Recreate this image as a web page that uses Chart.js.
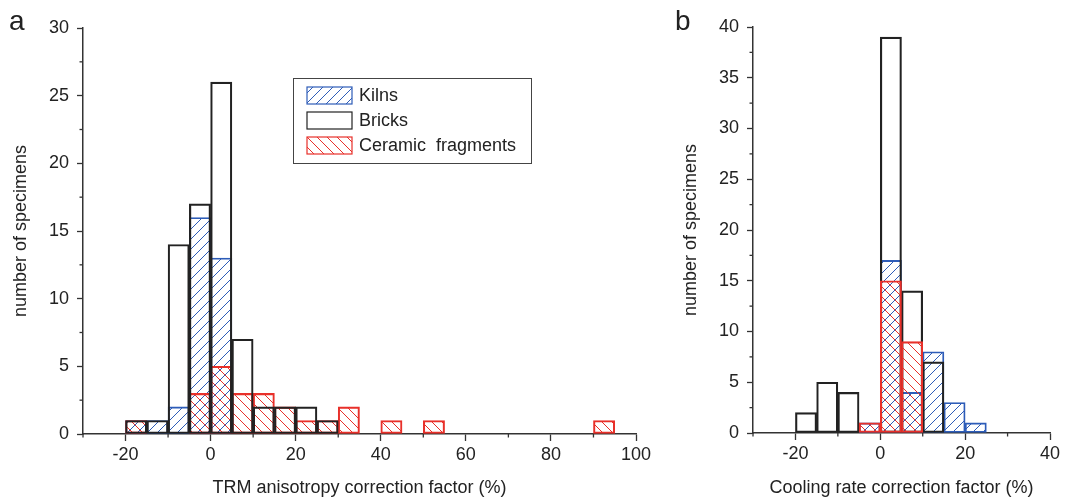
<!DOCTYPE html>
<html>
<head>
<meta charset="utf-8">
<script src="https://cdn.jsdelivr.net/npm/chart.js@4/dist/chart.umd.min.js"></script>
<style>
body{margin:0;background:#fff;width:1065px;height:499px;overflow:hidden;position:relative}
.wrap{position:absolute;top:0;height:499px}
#wa{left:0;width:660px}
#wb{left:665px;width:400px}
</style>
</head>
<body>
<div class="wrap" id="wa"><canvas id="chartA"></canvas></div>
<div class="wrap" id="wb"><canvas id="chartB"></canvas></div>
<script>
// panel a : TRM anisotropy correction factor, bins of 5 %
const binsA    = [-20,-15,-10,-5,0,5,10,15,20,25,30,35,40,45,50,55,60,65,70,75,80,85,90];
const kilnsA   = [1,1,2,16,13,0,0,0,0,0,0,0,0,0,0,0,0,0,0,0,0,0,0];
const bricksA  = [1,1,14,17,26,7,2,2,2,1,0,0,0,0,0,0,0,0,0,0,0,0,0];
const ceramicA = [1,0,0,3,5,3,3,2,1,1,2,0,1,0,1,0,0,0,0,0,0,0,1];

// panel b : cooling rate correction factor
const binsB    = [-20,-15,-10,-5,0,5,10,15,20];
const kilnsB   = [0,0,0,1,17,4,8,3,1];
const bricksB  = [2,5,4,0,39,14,7,0,0];
const ceramicB = [0,0,0,1,15,9,0,0,0];

const binWidth = 5;
const legendNames = ["Kilns", "Bricks", "Ceramic  fragments"];

const FONT = '"Liberation Sans", Arial, sans-serif';
const BLUE = "#2d5cb8";
const RED = "#e8302a";
const BLACK = "#222";

function hatch(color, dir) {
  const s = 10;
  const c = document.createElement("canvas");
  c.width = s; c.height = s;
  const g = c.getContext("2d");
  g.strokeStyle = color;
  g.lineWidth = 1;
  g.beginPath();
  if (dir > 0) {
    g.moveTo(-1, s + 1); g.lineTo(s + 1, -1);
    g.moveTo(-1, 1); g.lineTo(1, -1);
    g.moveTo(s - 1, s + 1); g.lineTo(s + 1, s - 1);
  } else {
    g.moveTo(-1, -1); g.lineTo(s + 1, s + 1);
    g.moveTo(-1, s - 1); g.lineTo(1, s + 1);
    g.moveTo(s - 1, -1); g.lineTo(s + 1, 1);
  }
  g.stroke();
  return g.createPattern(c, "repeat");
}
const blueHatch = hatch(BLUE, 1);
const redHatch = hatch(RED, -1);

function pts(bins, vals) {
  return bins.map((b, i) => ({ x: b + binWidth / 2, y: vals[i] === 0 ? null : vals[i] }));
}

// minor ticks are drawn shorter than the labelled ones
const minorTicks = {
  id: "minorTicks",
  afterDraw(chart) {
    const ctx = chart.ctx;
    ctx.save();
    ctx.strokeStyle = "#333";
    ctx.lineWidth = 1.3;
    const xs = chart.scales.x, ys = chart.scales.y;
    xs.ticks.forEach(t => {
      if (t.label !== "") return;
      const p = xs.getPixelForValue(t.value);
      ctx.beginPath(); ctx.moveTo(p, xs.top); ctx.lineTo(p, xs.top + 3.5); ctx.stroke();
    });
    ys.ticks.forEach(t => {
      if (t.label !== "") return;
      const p = ys.getPixelForValue(t.value);
      ctx.beginPath(); ctx.moveTo(ys.right, p); ctx.lineTo(ys.right - 3.5, p); ctx.stroke();
    });
    ctx.restore();
  }
};

const panelLabel = {
  id: "panelLabel",
  afterDraw(chart, args, opts) {
    const ctx = chart.ctx;
    ctx.save();
    ctx.fillStyle = BLACK;
    ctx.font = "28px " + FONT;
    ctx.textBaseline = "alphabetic";
    ctx.fillText(opts.text, opts.x, opts.y);
    ctx.restore();
  }
};

const boxLegend = {
  id: "boxLegend",
  afterDraw(chart, args, opts) {
    if (!opts.show) return;
    const ctx = chart.ctx;
    ctx.save();
    ctx.strokeStyle = "#444";
    ctx.lineWidth = 1;
    ctx.strokeRect(293.5, 78.5, 238, 85);
    const fills = [blueHatch, "rgba(0,0,0,0)", redHatch];
    const borders = [BLUE, BLACK, RED];
    const rows = [87, 112, 137];
    ctx.font = "18px " + FONT;
    ctx.textBaseline = "middle";
    legendNames.forEach((n, i) => {
      ctx.fillStyle = fills[i];
      ctx.fillRect(307, rows[i], 45, 17);
      ctx.strokeStyle = borders[i];
      ctx.lineWidth = 1.2;
      ctx.strokeRect(307, rows[i], 45, 17);
      ctx.fillStyle = BLACK;
      ctx.fillText(n, 359, rows[i] + 9);
    });
    ctx.restore();
  }
};

function makeChart(id, bins, kilns, bricks, ceramic, o) {
  const ds = [
    { label: legendNames[0], data: pts(bins, kilns), backgroundColor: blueHatch, borderColor: BLUE, borderWidth: 1.2, order: 3 },
    { label: legendNames[1], data: pts(bins, bricks), backgroundColor: "rgba(0,0,0,0)", borderColor: BLACK, borderWidth: 1.5, order: o.bricksOrder },
    { label: legendNames[2], data: pts(bins, ceramic), backgroundColor: redHatch, borderColor: RED, borderWidth: 1.4, order: o.ceramicOrder }
  ];
  ds.forEach(d => {
    d.grouped = false;
    d.barPercentage = 1;
    d.categoryPercentage = 1;
    d.borderSkipped = false;
  });
  return new Chart(id, {
    type: "bar",
    data: { datasets: ds },
    plugins: [minorTicks, panelLabel, boxLegend],
    options: {
      responsive: true,
      maintainAspectRatio: false,
      animation: false,
      layout: { padding: { left: 0, top: o.top, right: o.right, bottom: 0 } },
      plugins: {
        legend: { display: false },
        tooltip: { enabled: false },
        panelLabel: o.label,
        boxLegend: { show: o.legend }
      },
      scales: {
        x: {
          type: "linear",
          offset: false,
          min: o.xmin, max: o.xmax,
          afterFit: s => { s.height = o.xh; },
          ticks: {
            stepSize: 10,
            color: BLACK,
            font: { family: FONT, size: 18 },
            padding: 3,
            maxRotation: 0,
            autoSkip: false,
            callback: v => (v % 20 === 0 ? String(v) : "")
          },
          grid: {
            offset: false,
            drawOnChartArea: false,
            tickLength: 7,
            tickWidth: 1.3,
            color: c => (c.tick && c.tick.value % 20 === 0 ? "#333" : "rgba(0,0,0,0)")
          },
          border: { display: true, color: "#333", width: 1.5 },
          title: {
            display: true,
            text: o.xtitle,
            color: BLACK,
            font: { family: FONT, size: 18 },
            padding: { top: 0, bottom: 0 }
          }
        },
        y: {
          min: 0, max: o.ymax,
          afterFit: s => { s.width = o.yw; },
          ticks: {
            stepSize: 2.5,
            color: BLACK,
            font: { family: FONT, size: 18 },
            padding: 8,
            autoSkip: false,
            callback: v => (v % 5 === 0 ? String(v) : "")
          },
          grid: {
            drawOnChartArea: false,
            tickLength: 6,
            tickWidth: 1.3,
            color: c => (c.tick && c.tick.value % 5 === 0 ? "#333" : "rgba(0,0,0,0)")
          },
          border: { display: true, color: "#333", width: 1.5 },
          title: {
            display: true,
            text: "number of specimens",
            color: BLACK,
            font: { family: FONT, size: 18 },
            padding: { top: o.ytp, bottom: 0 }
          }
        }
      }
    }
  });
}

makeChart("chartA", binsA, kilnsA, bricksA, ceramicA, {
  xmin: -30, xmax: 100, ymax: 30,
  top: 28, right: 24, xh: 65, yw: 83, ytp: 10,
  xtitle: "TRM anisotropy correction factor (%)",
  label: { text: "a", x: 9, y: 30 },
  legend: true,
  bricksOrder: 1, ceramicOrder: 2
});

makeChart("chartB", binsB, kilnsB, bricksB, ceramicB, {
  xmin: -30, xmax: 40, ymax: 40,
  top: 27, right: 15, xh: 66, yw: 88, ytp: 15,
  xtitle: "Cooling rate correction factor (%)",
  label: { text: "b", x: 10, y: 30 },
  legend: false,
  bricksOrder: 2, ceramicOrder: 1
});
</script>
</body>
</html>
